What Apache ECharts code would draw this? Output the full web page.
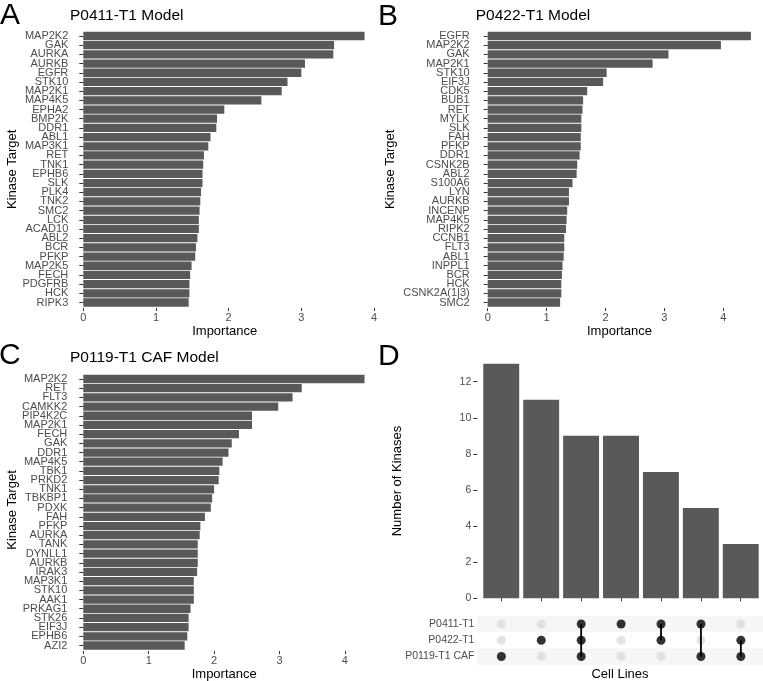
<!DOCTYPE html>
<html>
<head>
<meta charset="utf-8" />
<title>Kinase importance</title>
<script src="https://cdn.jsdelivr.net/npm/echarts@6.0.0/dist/echarts.min.js"></script>
<style>html, body { margin: 0; padding: 0; background: #fff; }</style>
</head>
<body>
<div id="main" style="width: 763px; height: 681px;"></div>
<script type="text/javascript">
// panel A - P0411-T1 Model
var kinasesA = ['MAP2K2', 'GAK', 'AURKA', 'AURKB', 'EGFR', 'STK10', 'MAP2K1', 'MAP4K5', 'EPHA2', 'BMP2K',
    'DDR1', 'ABL1', 'MAP3K1', 'RET', 'TNK1', 'EPHB6', 'SLK', 'PLK4', 'TNK2', 'SMC2',
    'LCK', 'ACAD10', 'ABL2', 'BCR', 'PFKP', 'MAP2K5', 'FECH', 'PDGFRB', 'HCK', 'RIPK3'];
var importanceA = [3.87, 3.45, 3.44, 3.05, 3.00, 2.81, 2.73, 2.45, 1.94, 1.84,
    1.83, 1.75, 1.72, 1.66, 1.65, 1.64, 1.64, 1.62, 1.61, 1.60,
    1.59, 1.59, 1.57, 1.55, 1.54, 1.49, 1.47, 1.46, 1.46, 1.45];

// panel B - P0422-T1 Model
var kinasesB = ['EGFR', 'MAP2K2', 'GAK', 'MAP2K1', 'STK10', 'EIF3J', 'CDK5', 'BUB1', 'RET', 'MYLK',
    'SLK', 'FAH', 'PFKP', 'DDR1', 'CSNK2B', 'ABL2', 'S100A6', 'LYN', 'AURKB', 'INCENP',
    'MAP4K5', 'RIPK2', 'CCNB1', 'FLT3', 'ABL1', 'INPPL1', 'BCR', 'HCK', 'CSNK2A(1|3)', 'SMC2'];
var importanceB = [4.47, 3.96, 3.07, 2.80, 2.02, 1.96, 1.69, 1.62, 1.61, 1.59,
    1.59, 1.58, 1.58, 1.56, 1.52, 1.51, 1.44, 1.38, 1.38, 1.35,
    1.34, 1.33, 1.30, 1.30, 1.29, 1.27, 1.26, 1.25, 1.25, 1.23];

// panel C - P0119-T1 CAF Model
var kinasesC = ['MAP2K2', 'RET', 'FLT3', 'CAMKK2', 'PIP4K2C', 'MAP2K1', 'FECH', 'GAK', 'DDR1', 'MAP4K5',
    'TBK1', 'PRKD2', 'TNK1', 'TBKBP1', 'PDXK', 'FAH', 'PFKP', 'AURKA', 'TANK', 'DYNLL1',
    'AURKB', 'IRAK3', 'MAP3K1', 'STK10', 'AAK1', 'PRKAG1', 'STK26', 'EIF3J', 'EPHB6', 'AZI2'];
var importanceC = [4.30, 3.34, 3.20, 2.98, 2.58, 2.58, 2.38, 2.27, 2.22, 2.13,
    2.08, 2.07, 2.00, 1.97, 1.95, 1.86, 1.79, 1.78, 1.75, 1.75,
    1.75, 1.74, 1.69, 1.69, 1.69, 1.64, 1.61, 1.61, 1.59, 1.55];

var importanceTicks = [0, 1, 2, 3, 4];

// panel D - upset plot
var setNames = ['P0411-T1', 'P0422-T1', 'P0119-T1 CAF'];
var intersectionSizes = [13, 11, 9, 9, 7, 5, 3];
var intersectionMembers = [[2], [1], [0, 1, 2], [0], [0, 1], [0, 2], [1, 2]];
var countTicks = [0, 2, 4, 6, 8, 10, 12];

var FONT = '"Liberation Sans", Arial, Helvetica, sans-serif';
var BAR = '#595959';
var TXT = '#4d4d4d';

var myChart = echarts.init(document.getElementById('main'), null, { renderer: 'canvas' });

function barGrid(left, top, width, height) {
    return { left: left, top: top, width: width, height: height, containLabel: false, outerBoundsMode: 'none' };
}

function valueAxis(gridIndex, max, offset, margin) {
    return {
        type: 'value', gridIndex: gridIndex, min: 0, max: max, offset: offset,
        splitLine: { show: false }, axisLine: { show: false },
        axisTick: { show: true, length: 3, lineStyle: { color: '#333', width: 1 }, customValues: importanceTicks },
        axisLabel: { color: TXT, fontSize: 11, fontFamily: FONT, margin: margin, customValues: importanceTicks }
    };
}

function catAxis(gridIndex, cats, offset) {
    return {
        type: 'category', gridIndex: gridIndex, data: cats, inverse: true, offset: offset,
        axisLine: { show: false },
        axisTick: { show: true, alignWithLabel: true, length: 4, lineStyle: { color: '#333', width: 1 } },
        axisLabel: { color: TXT, fontSize: 11, fontFamily: FONT, margin: 6, interval: 0 }
    };
}

function barSeries(idx, data) {
    return {
        type: 'bar', xAxisIndex: idx, yAxisIndex: idx, data: data,
        barCategoryGap: '10%', itemStyle: { color: BAR }, silent: true
    };
}

// matrix points
var presentPts = [], absentPts = [], linkData = [];
intersectionMembers.forEach(function (m, c) {
    setNames.forEach(function (s, r) {
        if (m.indexOf(r) >= 0) presentPts.push([c, r]);
        else absentPts.push([c, r]);
    });
    if (m.length > 1) linkData.push([c, Math.min.apply(null, m), Math.max.apply(null, m)]);
});

function txt(text, x, y, size, opts) {
    opts = opts || {};
    return {
        type: 'text', x: x, y: y, rotation: opts.rot || 0, silent: true,
        style: {
            text: text, fill: opts.fill || '#000', fontSize: size, fontFamily: FONT,
            align: opts.align || 'center', verticalAlign: 'middle'
        }
    };
}

var option = {
    animation: false,
    backgroundColor: '#fff',
    grid: [
        barGrid(83.3, 31.4, 290.7, 275.7),
        barGrid(487.7, 31.4, 270.9, 275.7),
        barGrid(83.3, 374.4, 294.3, 275.7),
        barGrid(481.3, 351.9, 279.4, 258.1),
        barGrid(477.4, 615.8, 287.4, 48.9)
    ],
    xAxis: [
        valueAxis(0, 4, 1, 4),
        valueAxis(1, 4.6, 1, 4),
        valueAxis(2, 4.5, 1, 4),
        {
            type: 'category', gridIndex: 3, data: intersectionSizes.map(function (v, i) { return i; }),
            axisLine: { show: false }, axisLabel: { show: false },
            axisTick: { show: true, alignWithLabel: true, length: 3, lineStyle: { color: '#333' } }
        },
        {
            type: 'value', gridIndex: 4, min: -0.6, max: 6.6,
            show: false, splitLine: { show: false }
        }
    ],
    yAxis: [
        catAxis(0, kinasesA, 9),
        catAxis(1, kinasesB, 12),
        catAxis(2, kinasesC, 10),
        {
            type: 'value', gridIndex: 3, min: -0.65, max: 13.65, offset: 4,
            splitLine: { show: false }, axisLine: { show: false },
            axisTick: { show: true, length: 4, lineStyle: { color: '#333' }, customValues: countTicks },
            axisLabel: { color: TXT, fontSize: 10.5, fontFamily: FONT, margin: 6, customValues: countTicks }
        },
        {
            type: 'category', gridIndex: 4, data: setNames, inverse: true,
            axisLine: { show: false }, axisTick: { show: false },
            axisLabel: { color: TXT, fontSize: 10.5, fontFamily: FONT, margin: 3 },
            splitArea: { show: true, areaStyle: { color: ['#f6f6f6', '#ffffff'] } }
        }
    ],
    series: [
        barSeries(0, importanceA),
        barSeries(1, importanceB),
        barSeries(2, importanceC),
        {
            type: 'bar', xAxisIndex: 3, yAxisIndex: 3, data: intersectionSizes,
            barCategoryGap: '10%', itemStyle: { color: BAR }, silent: true
        },
        {
            type: 'scatter', xAxisIndex: 4, yAxisIndex: 4, data: absentPts,
            symbolSize: 9, itemStyle: { color: '#dcdcdc' }, silent: true
        },
        {
            type: 'custom', xAxisIndex: 4, yAxisIndex: 4, data: linkData, silent: true, z: 3,
            renderItem: function (params, api) {
                var p1 = api.coord([api.value(0), api.value(1)]);
                var p2 = api.coord([api.value(0), api.value(2)]);
                return {
                    type: 'line',
                    shape: { x1: p1[0], y1: p1[1], x2: p2[0], y2: p2[1] },
                    style: { stroke: '#000', lineWidth: 1.8 }
                };
            }
        },
        {
            type: 'scatter', xAxisIndex: 4, yAxisIndex: 4, data: presentPts, z: 4,
            symbolSize: 9, itemStyle: { color: '#000' }, silent: true
        }
    ],
    graphic: [
        txt('A', 0, 16, 30, { align: 'left' }),
        txt('B', 378, 16.5, 30, { align: 'left' }),
        txt('C', -1, 356, 30, { align: 'left' }),
        txt('D', 378, 356.5, 30, { align: 'left' }),
        txt('P0411-T1 Model', 70, 15.5, 15.5, { align: 'left' }),
        txt('P0422-T1 Model', 475.7, 15.5, 15.5, { align: 'left' }),
        txt('P0119-T1 CAF Model', 70, 357.5, 15.5, { align: 'left' }),
        txt('Importance', 224.7, 331.7, 13),
        txt('Importance', 619.5, 331.7, 13),
        txt('Importance', 224.2, 674.3, 13),
        txt('Kinase Target', 12, 169.3, 13, { rot: Math.PI / 2 }),
        txt('Kinase Target', 390, 169.3, 13, { rot: Math.PI / 2 }),
        txt('Kinase Target', 12, 510, 13, { rot: Math.PI / 2 }),
        txt('Number of Kinases', 397.3, 481, 13, { rot: Math.PI / 2 }),
        txt('Cell Lines', 620, 674, 13)
    ]
};

myChart.setOption(option);
</script>
</body>
</html>
